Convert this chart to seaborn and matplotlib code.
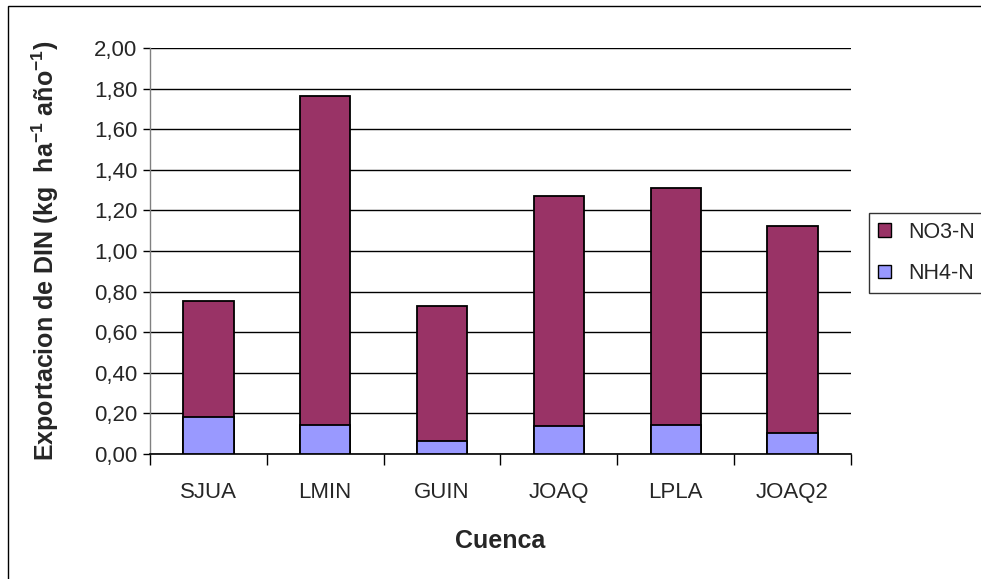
import matplotlib
matplotlib.use("Agg")
import matplotlib.pyplot as plt
import matplotlib.patches as mpatches
from matplotlib.ticker import FixedLocator
import numpy as np
import pandas as pd
import seaborn as sns

# Export of dissolved inorganic nitrogen per basin (kg ha-1 yr-1)
cuencas = ["SJUA", "LMIN", "GUIN", "JOAQ", "LPLA", "JOAQ2"]
nh4_n = [0.184, 0.145, 0.066, 0.137, 0.145, 0.105]
no3_n = [0.572, 1.617, 0.664, 1.133, 1.163, 1.016]
y_ticks = [0.0, 0.2, 0.4, 0.6, 0.8, 1.0, 1.2, 1.4, 1.6, 1.8, 2.0]
y_tick_labels = ["0,00", "0,20", "0,40", "0,60", "0,80", "1,00",
                 "1,20", "1,40", "1,60", "1,80", "2,00"]

sns.set_theme(style="white")
plt.rcParams["font.family"] = ["Liberation Sans", "DejaVu Sans"]
plt.rcParams["mathtext.fontset"] = "custom"
plt.rcParams["mathtext.rm"] = "Liberation Sans"
plt.rcParams["mathtext.bf"] = "Liberation Sans:bold"

df = pd.DataFrame({"Cuenca": cuencas, "NH4-N": nh4_n, "NO3-N": no3_n})
df["Total"] = df["NH4-N"] + df["NO3-N"]

col_no3 = "#993366"
col_nh4 = "#9999FF"
tick_fs = 16
title_fs = 18

fig = plt.figure(figsize=(9.81, 5.79), dpi=100)
ax = fig.add_axes([150 / 981, 1 - 454 / 579, 701 / 981, 406 / 579])

# Stacked bars: full height in NO3 colour, NH4 segment drawn over the base
sns.barplot(data=df, x="Cuenca", y="Total", color=col_no3, saturation=1,
            width=0.43, edgecolor="black", linewidth=1.3, ax=ax, zorder=3)
sns.barplot(data=df, x="Cuenca", y="NH4-N", color=col_nh4, saturation=1,
            width=0.43, edgecolor="black", linewidth=1.3, ax=ax, zorder=4)

ax.set_ylim(0, 2.0)
ax.set_xlim(-0.5, len(cuencas) - 0.5)
ax.set_yticks(y_ticks)
ax.set_yticklabels(y_tick_labels, fontsize=tick_fs)
ax.yaxis.grid(True, color="black", linewidth=1.0, zorder=0)
ax.set_axisbelow(True)

# Category ticks sit between the bars
ax.tick_params(axis="x", which="major", length=0, pad=20, labelsize=tick_fs)
ax.xaxis.set_minor_locator(FixedLocator(np.arange(-0.5, len(cuencas), 1.0)))
ax.tick_params(axis="x", which="minor", length=8, width=1, color="black",
               direction="out", bottom=True)
ax.tick_params(axis="y", length=5, width=1, color="black", direction="out",
               left=True, pad=4)

for s in ["top", "right"]:
    ax.spines[s].set_visible(False)
ax.spines["left"].set_color("#808080")
ax.spines["left"].set_linewidth(1.0)
ax.spines["bottom"].set_color("black")
ax.spines["bottom"].set_linewidth(1.2)

ax.set_xlabel("Cuenca", fontsize=title_fs, fontweight="bold", labelpad=19)
ax.set_ylabel(r"Exportacion de DIN (kg  ha$^{\mathbf{-1}}$ año$^{\mathbf{-1}}$)",
              fontsize=title_fs, fontweight="bold", labelpad=24)

handles = [mpatches.Patch(facecolor=col_no3, edgecolor="black", label="NO3-N"),
           mpatches.Patch(facecolor=col_nh4, edgecolor="black", label="NH4-N")]
leg = fig.legend(handles=handles, loc="upper left",
                 bbox_to_anchor=(869 / 981, 1 - 213 / 579),
                 fontsize=15.5, frameon=True, fancybox=False,
                 handlelength=0.6, handleheight=0.6, handletextpad=0.8,
                 labelspacing=0.95, borderpad=0.4, borderaxespad=0)
leg.get_frame().set_edgecolor("black")
leg.get_frame().set_linewidth(1.0)

# Outer frame around the whole chart
fig.patches.append(mpatches.Rectangle((8 / 981, -0.01), 1.0, 1 - 6 / 579 + 0.01,
                                      transform=fig.transFigure, fill=False,
                                      edgecolor="black", linewidth=1.0))

fig.savefig("out.png", dpi=100)
